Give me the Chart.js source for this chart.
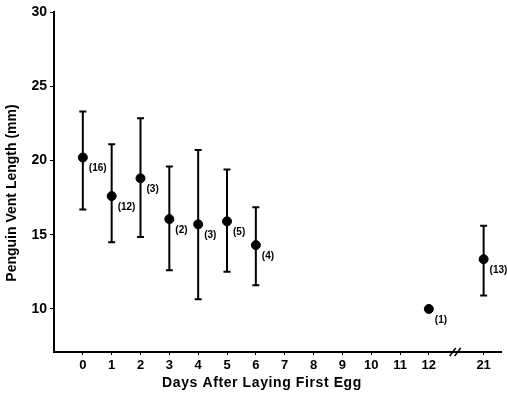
<!DOCTYPE html>
<html>
<head>
<meta charset="utf-8">
<script src="https://cdn.jsdelivr.net/npm/chart.js@4/dist/chart.umd.min.js"></script>
<style>
  body { margin: 0; background: #fff; }
  canvas { display: block; }
</style>
</head>
<body>
<canvas id="ventChart" width="507" height="396"></canvas>
<script>
// data
const days = [0, 1, 2, 3, 4, 5, 6, 12, 21];
const meanLength = [20.2, 17.6, 18.8, 16.05, 15.7, 15.9, 14.3, 10.0, 13.35];
const upperLength = [23.3, 21.1, 22.85, 19.6, 20.7, 19.4, 16.85, null, 15.6];
const lowerLength = [16.7, 14.5, 14.85, 12.6, 10.65, 12.5, 11.6, null, 10.9];
const sampleSizes = [16, 12, 3, 2, 3, 5, 4, 1, 13];
const xTickLabels = ['0', '1', '2', '3', '4', '5', '6', '7', '8', '9', '10', '11', '12', '21'];
const yTickValues = [10, 15, 20, 25, 30];

const FONT = '"Liberation Sans", Arial, sans-serif';

// axis is broken between 12 and 21, so day 21 sits just past the break
function dayPos(d) {
    return d <= 12 ? d : 13.9;
}
const xTickPositions = xTickLabels.map(l => dayPos(Number(l)));

const points = days.map((d, i) => ({ x: dayPos(d), y: meanLength[i] }));

const extras = {
    id: 'extras',
    beforeDatasetsDraw(chart) {
        const { ctx, scales: { x, y } } = chart;
        ctx.save();
        ctx.strokeStyle = '#000';
        ctx.lineWidth = 2;
        days.forEach((d, i) => {
            if (upperLength[i] == null) return;
            const px = x.getPixelForValue(dayPos(d));
            const top = y.getPixelForValue(upperLength[i]);
            const bot = y.getPixelForValue(lowerLength[i]);
            ctx.beginPath();
            ctx.moveTo(px, top); ctx.lineTo(px, bot);
            ctx.moveTo(px - 3.5, top); ctx.lineTo(px + 3.5, top);
            ctx.moveTo(px - 3.5, bot); ctx.lineTo(px + 3.5, bot);
            ctx.stroke();
        });
        ctx.restore();
    },
    afterDraw(chart) {
        const { ctx, scales: { x, y }, chartArea } = chart;
        ctx.save();
        ctx.fillStyle = '#000';
        // sample size labels
        ctx.font = 'bold 10px ' + FONT;
        ctx.textAlign = 'left';
        ctx.textBaseline = 'middle';
        days.forEach((d, i) => {
            const px = x.getPixelForValue(dayPos(d));
            const py = y.getPixelForValue(meanLength[i]);
            ctx.fillText('(' + sampleSizes[i] + ')', px + 6, py + 11);
        });

        // axis break marks
        const bx = x.getPixelForValue(13);
        const by = chartArea.bottom;
        ctx.strokeStyle = '#000';
        ctx.lineWidth = 1.5;
        ctx.beginPath();
        ctx.moveTo(bx - 8, by + 4); ctx.lineTo(bx - 2, by - 4);
        ctx.moveTo(bx - 3, by + 4); ctx.lineTo(bx + 3, by - 4);
        ctx.stroke();

        // axis titles
        ctx.font = 'bold 14px ' + FONT;
        ctx.textAlign = 'center';
        ctx.textBaseline = 'middle';
        ctx.letterSpacing = '0.6px';
        ctx.fillText('Days After Laying First Egg', 262, 383);
        ctx.letterSpacing = '0px';
        ctx.translate(12, 193);
        ctx.rotate(-Math.PI / 2);
        ctx.fillText('Penguin Vent Length (mm)', 0, 0);
        ctx.restore();
    }
};

const ctx = document.getElementById('ventChart').getContext('2d');
new Chart(ctx, {
    type: 'scatter',
    data: {
        datasets: [{
            data: points,
            backgroundColor: '#000',
            borderColor: '#000',
            pointRadius: 4.5,
            pointHoverRadius: 4.5
        }]
    },
    options: {
        responsive: false,
        animation: false,
        layout: { padding: { top: 12, right: 0, left: 0, bottom: 0 } },
        plugins: {
            legend: { display: false },
            tooltip: { enabled: false }
        },
        scales: {
            x: {
                type: 'linear',
                min: -1.0,
                max: 14.52,
                afterBuildTicks: scale => {
                    scale.ticks = xTickPositions.map(v => ({ value: v }));
                },
                afterFit: scale => { scale.height = 44; },
                ticks: {
                    autoSkip: false,
                    maxRotation: 0,
                    padding: 3,
                    color: '#000',
                    font: { family: FONT, size: 13, weight: 'bold' },
                    callback: (value) => {
                        const i = xTickPositions.indexOf(value);
                        return i >= 0 ? xTickLabels[i] : '';
                    }
                },
                grid: { drawOnChartArea: false, drawTicks: true, tickLength: 3, color: '#000' },
                border: { display: true, color: '#000', width: 2 }
            },
            y: {
                min: 7.1,
                max: 30,
                afterBuildTicks: scale => {
                    scale.ticks = yTickValues.map(v => ({ value: v }));
                },
                afterFit: scale => { scale.width = 54; },
                ticks: {
                    padding: 3,
                    color: '#000',
                    font: { family: FONT, size: 14, weight: 'bold' }
                },
                grid: { drawOnChartArea: false, drawTicks: true, tickLength: 4, color: '#000' },
                border: { display: true, color: '#000', width: 2 }
            }
        }
    },
    plugins: [extras]
});
</script>
</body>
</html>
